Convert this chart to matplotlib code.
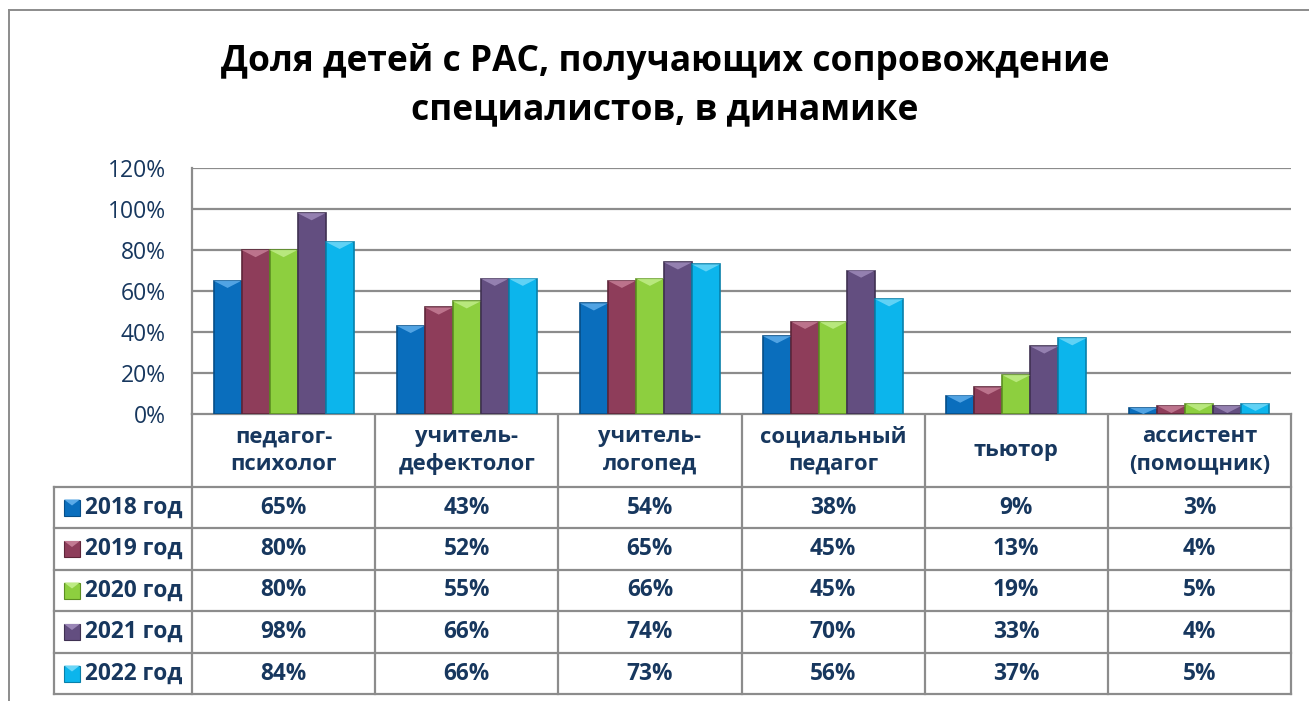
import matplotlib
matplotlib.use("Agg")
import matplotlib.pyplot as plt
from matplotlib.patches import Polygon, Rectangle
import numpy as np

plt.rcParams['font.family'] = ['Open Sans', 'DejaVu Sans']

# data
categories = ["педагог-\nпсихолог", "учитель-\nдефектолог", "учитель-\nлогопед",
              "социальный\nпедагог", "тьютор", "ассистент\n(помощник)"]
years = ["2018 год", "2019 год", "2020 год", "2021 год", "2022 год"]
v2018 = [65, 43, 54, 38, 9, 3]
v2019 = [80, 52, 65, 45, 13, 4]
v2020 = [80, 55, 66, 45, 19, 5]
v2021 = [98, 66, 74, 70, 33, 4]
v2022 = [84, 66, 73, 56, 37, 5]
series = [v2018, v2019, v2020, v2021, v2022]
yticks = [0, 20, 40, 60, 80, 100, 120]

colors = ["#0A6EBD", "#8E3D5A", "#8DCF3F", "#634E80", "#0CB5EC"]
edges = ["#064E88", "#5E2539", "#5C8F22", "#3F3152", "#0880AA"]
tops = ["#5AAAE8", "#C27A92", "#BDEB84", "#9A86B6", "#6AD6F7"]
text_col = "#17375E"
grid_col = "#8C8C8C"

W, H = 1309, 701
fig = plt.figure(figsize=(W / 100, H / 100), dpi=100)

# pixel layout
left, right, top, zero = 192, 1291, 168, 414
ax = fig.add_axes([left / W, 1 - zero / H, (right - left) / W, (zero - top) / H])

n = len(categories)
bw = 0.153
x = np.arange(n)
for i, vals in enumerate(series):
    xs = x - 2 * bw + i * bw
    bars = ax.bar(xs, np.array(vals) / 100, width=bw, color=colors[i],
                  edgecolor=edges[i], linewidth=1.2, zorder=3)
    for b in bars:
        bx, by = b.get_x(), b.get_height()
        bwid = b.get_width()
        # bevel on top of each bar
        bh = min(0.035, by)
        ax.add_patch(Polygon([[bx, by], [bx + bwid, by],
                              [bx + bwid * 0.5, by - bh]],
                             closed=True, facecolor=tops[i], edgecolor='none',
                             zorder=4, alpha=0.9))

ax.set_xlim(-0.5, n - 0.5)
ax.set_ylim(0, 1.2)
ax.set_yticks([t / 100 for t in yticks])
ax.set_yticklabels([f"{t}%" for t in yticks], fontsize=16.5, color=text_col)
ax.tick_params(axis='y', length=0, pad=19)
ax.set_xticks([])
ax.grid(axis='y', color=grid_col, linewidth=1.6, zorder=0)
for s in ['top', 'right', 'bottom']:
    ax.spines[s].set_visible(False)
ax.spines['left'].set_color(grid_col)
ax.spines['left'].set_linewidth(1.6)

# data table drawn in figure pixels
tab = fig.add_axes([0, 0, 1, 1], zorder=-1)
tab.set_xlim(0, W)
tab.set_ylim(H, 0)
tab.axis('off')
tab.patch.set_alpha(0)

col_edges = np.linspace(left, right, n + 1)
row_edges = [zero, 487, 528, 570, 611, 653, 694]
first_col = 54
lc = dict(color=grid_col, linewidth=1.6)

# outer chart frame
tab.plot([9, 9], [10, H], color="#8C8C8C", linewidth=1.4)
tab.plot([9, W], [10, 10], color="#8C8C8C", linewidth=1.4)

tab.plot([left, right], [zero, zero], **lc)
for ce in col_edges:
    tab.plot([ce, ce], [zero, row_edges[-1]], **lc)
for re in row_edges[1:]:
    tab.plot([first_col, right], [re, re], **lc)
tab.plot([first_col, first_col], [row_edges[1], row_edges[-1]], **lc)

for j, cat in enumerate(categories):
    cx = (col_edges[j] + col_edges[j + 1]) / 2
    cy = (row_edges[0] + row_edges[1]) / 2
    tab.text(cx, cy, cat, ha='center', va='center', fontsize=15.8,
             fontweight='bold', color=text_col, linespacing=1.4)

for i, (yr, vals) in enumerate(zip(years, series)):
    cy = (row_edges[i + 1] + row_edges[i + 2]) / 2
    tab.add_patch(Rectangle((64, cy - 8), 16, 16, facecolor=colors[i],
                            edgecolor=edges[i], linewidth=0.8))
    tab.add_patch(Polygon([[64, cy - 8], [80, cy - 8], [72, cy - 2]],
                          facecolor=tops[i], edgecolor='none'))
    tab.text(85, cy, yr, ha='left', va='center', fontsize=16.3,
             fontweight='bold', color=text_col)
    for j, v in enumerate(vals):
        cx = (col_edges[j] + col_edges[j + 1]) / 2
        tab.text(cx, cy, f"{v}%", ha='center', va='center', fontsize=16.3,
                 fontweight='bold', color=text_col)

fig.text(665 / W, 1 - 62 / H, "Доля детей с РАС, получающих сопровождение",
         ha='center', va='center', fontsize=25.5, fontweight='bold', color='black')
fig.text(665 / W, 1 - 110 / H, "специалистов, в динамике",
         ha='center', va='center', fontsize=25.5, fontweight='bold', color='black')

fig.savefig("out.png", dpi=100)
